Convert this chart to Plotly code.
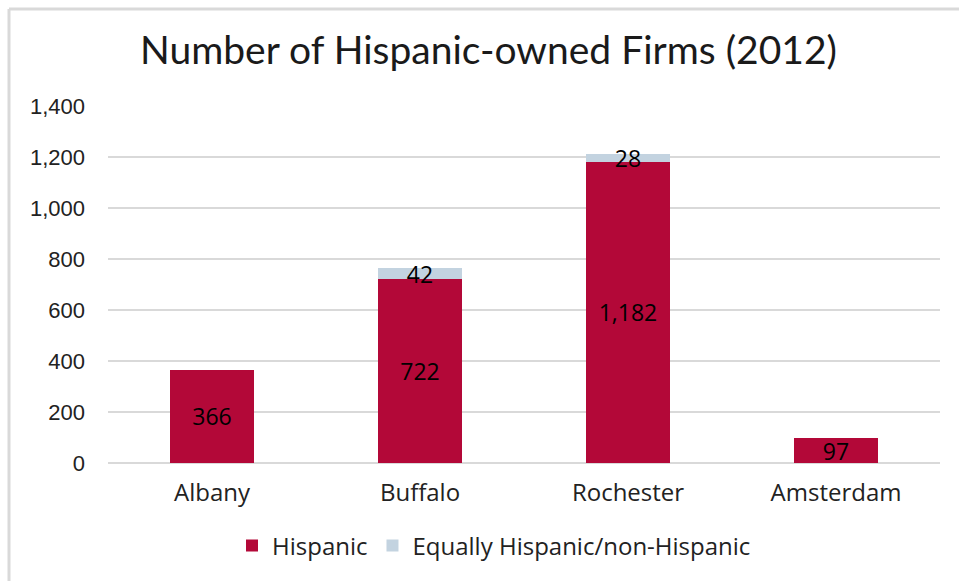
import plotly.graph_objects as go

categories = ["Albany", "Buffalo", "Rochester", "Amsterdam"]
hispanic = [366, 722, 1182, 97]
equally = [None, 42, 28, None]
tick_vals = [0, 200, 400, 600, 800, 1000, 1200, 1400]
tick_text = ["0", "200", "400", "600", "800", "1,000", "1,200", "1,400"]

RED = "#B30838"
BLUE = "#C3D3E0"
GRID = "#D9D9D9"
LABEL_FONT = "Open Sans"

def fmt(v):
    return f"{v:,}" if v is not None else ""

fig = go.Figure()
fig.add_trace(go.Bar(
    name="Hispanic", x=categories, y=hispanic,
    marker=dict(color=RED, line=dict(width=0)),
    text=[fmt(v) for v in hispanic], textposition="inside", textangle=0,
    insidetextanchor="middle", constraintext="none",
    textfont=dict(family=LABEL_FONT, size=23, color="black"),
))
fig.add_trace(go.Bar(
    name="Equally Hispanic/non-Hispanic", x=categories, y=equally,
    marker=dict(color=BLUE, line=dict(width=0)),
    text=[fmt(v) for v in equally], textposition="inside", textangle=0,
    insidetextanchor="middle", constraintext="none",
    textfont=dict(family=LABEL_FONT, size=23, color="black"),
))

# plot area geometry in pixels: left 108, right 940, top 106, bottom 463
L, R, T, B = 108, 940, 106, 463
W, H = R - L, B - T
def px(x):
    return (x - L) / W
def py(y):
    return (B - y) / H

fig.update_layout(
    width=959, height=581,
    barmode="stack", bargap=0.6,
    paper_bgcolor="white", plot_bgcolor="white",
    margin=dict(l=L, r=959 - R, t=T, b=581 - B),
    title=dict(text="Number of Hispanic-owned Firms (2012)",
               font=dict(family="Lato", size=39, color="#1a1a1a"),
               x=488.5 / 959, xanchor="center", y=1 - 50 / 581, yanchor="middle"),
    showlegend=True,
    legend=dict(orientation="h", x=px(494), xanchor="center", y=py(546), yanchor="middle",
                font=dict(family=LABEL_FONT, size=24, color="#222"),
                traceorder="normal", tracegroupgap=0, itemwidth=30),
    xaxis=dict(showgrid=False, showline=False, ticks="", ticklabelstandoff=13,
               tickfont=dict(family=LABEL_FONT, size=24, color="#222")),
    yaxis=dict(range=[0, 1400], tickvals=tick_vals, ticktext=tick_text,
               showgrid=True, gridcolor=GRID, gridwidth=2,
               zeroline=True, zerolinecolor=GRID, zerolinewidth=2,
               showline=False, ticks="", ticklabelstandoff=22,
               tickfont=dict(family="Liberation Sans", size=22, color="#222")),
    shapes=[
        dict(type="line", xref="paper", yref="paper", x0=px(9), x1=px(959), y0=py(9), y1=py(9),
             line=dict(color=GRID, width=3)),
        dict(type="line", xref="paper", yref="paper", x0=px(9), x1=px(9), y0=py(9), y1=py(581),
             line=dict(color=GRID, width=3)),
    ],
)

fig.write_html("out.html", config={"displayModeBar": False},
               post_script="document.body.style.margin='0';document.body.style.overflow='hidden';")
